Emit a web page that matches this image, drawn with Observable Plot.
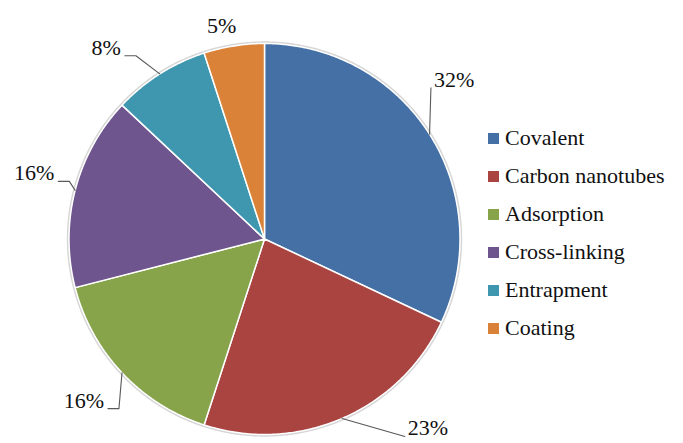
<!DOCTYPE html>
<html><head><meta charset="utf-8">
<script src="https://cdn.jsdelivr.net/npm/d3@7"></script>
<script src="https://cdn.jsdelivr.net/npm/@observablehq/plot@0.6"></script>
<style>
html,body{margin:0;padding:0;background:#fff;}
#wrap{position:relative;width:683px;height:443px;overflow:hidden;}
#legend{position:absolute;left:488px;top:119px;font-family:"Liberation Serif","LiberationSerif","Times New Roman",Times,"DejaVu Serif",serif;font-size:22px;color:#111;}
.row{display:flex;align-items:center;height:38px;white-space:nowrap;}
.sw{width:11px;height:11px;margin-right:6px;flex:none;}
</style></head><body><div id="wrap"></div>
<script>
// ---- data ----
const categories = ["Covalent", "Carbon nanotubes", "Adsorption", "Cross-linking", "Entrapment", "Coating"];
const shares = [32, 23, 16, 16, 8, 5];
const labelTexts = ["32%", "23%", "16%", "16%", "8%", "5%"];
const colors = ["#4470a6", "#a94441", "#87a44a", "#6f558e", "#3e97ae", "#da8238"];

// ---- layout (label placement: degrees clockwise from 12 o'clock, radius as fraction of pie radius) ----
const labelAngle = [50, 139.2, 228.2, 285.9, 320.4, 348.6];
const labelRadius = [1.266, 1.28, 1.24, 1.225, 1.27, 1.11];
const R = 195.5, cx = 264, cy = 238.5;
const FONT = '"Liberation Serif","LiberationSerif","Times New Roman",Times,"DejaVu Serif",serif';
const FS = 22;

const total = d3.sum(shares);
let acc = 0;
const slices = categories.map((c, i) => {
  const a0 = acc / total * 2 * Math.PI; acc += shares[i];
  const a1 = acc / total * 2 * Math.PI;
  return {c, i, a0, a1, mid: (a0 + a1) / 2};
});

const slicePts = [];
for (const s of slices) {
  slicePts.push({c: s.c, x: 0, y: 0});
  const n = Math.max(2, Math.ceil((s.a1 - s.a0) / (Math.PI / 360)));
  for (let k = 0; k <= n; k++) {
    const a = s.a0 + (s.a1 - s.a0) * k / n;
    slicePts.push({c: s.c, x: Math.sin(a), y: Math.cos(a)});
  }
  slicePts.push({c: s.c, x: 0, y: 0});
}

const rim = d3.range(0, 721).map(k => {
  const a = k / 720 * 2 * Math.PI;
  return {x: 1.006 * Math.sin(a), y: 1.006 * Math.cos(a)};
});

const ctx = document.createElement("canvas").getContext("2d");
ctx.font = `${FS}px ${FONT}`;

const labels = slices.map((s, i) => {
  const t = labelAngle[i] * Math.PI / 180;
  return {c: s.c, text: labelTexts[i], x: labelRadius[i] * Math.sin(t), y: labelRadius[i] * Math.cos(t),
          w: ctx.measureText(labelTexts[i]).width / R};
});

const leaderPts = [];
slices.forEach((s, i) => {
  const L = labels[i];
  if (labelRadius[i] < 1.15) return;
  const ex = Math.sin(s.mid), ey = Math.cos(s.mid);
  if (L.x < 0) {
    const endX = L.x + L.w / 2 + 4 / R, endY = L.y - 8 / R;
    leaderPts.push({c: s.c, x: ex, y: ey}, {c: s.c, x: endX + 11 / R, y: endY}, {c: s.c, x: endX, y: endY});
  } else {
    const endX = L.x - L.w / 2 - 3 / R, endY = L.y - 8 / R;
    leaderPts.push({c: s.c, x: ex, y: ey}, {c: s.c, x: endX, y: endY});
  }
});

const chart = Plot.plot({
  width: 683, height: 443, margin: 0,
  style: {background: "#fff", overflow: "visible"},
  x: {domain: [-1, 1], range: [cx - R, cx + R], axis: null},
  y: {domain: [-1, 1], range: [cy + R, cy - R], axis: null},
  color: {domain: categories, range: colors},
  marks: [
    Plot.line(rim, {x: "x", y: "y", stroke: "#d6d6d6", strokeWidth: 2}),
    Plot.line(slicePts, {x: "x", y: "y", z: "c", fill: "c", stroke: "#fff", strokeWidth: 1.5, strokeLinejoin: "round", curve: "linear"}),
    Plot.line(leaderPts, {x: "x", y: "y", z: "c", stroke: "#595959", strokeWidth: 1.1, curve: "linear"}),
    Plot.text(labels, {x: "x", y: "y", text: "text", fontSize: FS, fontFamily: FONT, fill: "#111"})
  ]
});

const wrap = document.getElementById("wrap");
wrap.appendChild(chart);
const legend = document.createElement("div");
legend.id = "legend";
categories.forEach((c, i) => {
  const row = document.createElement("div"); row.className = "row";
  const sw = document.createElement("span"); sw.className = "sw"; sw.style.background = colors[i];
  const tx = document.createElement("span"); tx.textContent = c;
  row.appendChild(sw); row.appendChild(tx); legend.appendChild(row);
});
wrap.appendChild(legend);
</script>
</body></html>
